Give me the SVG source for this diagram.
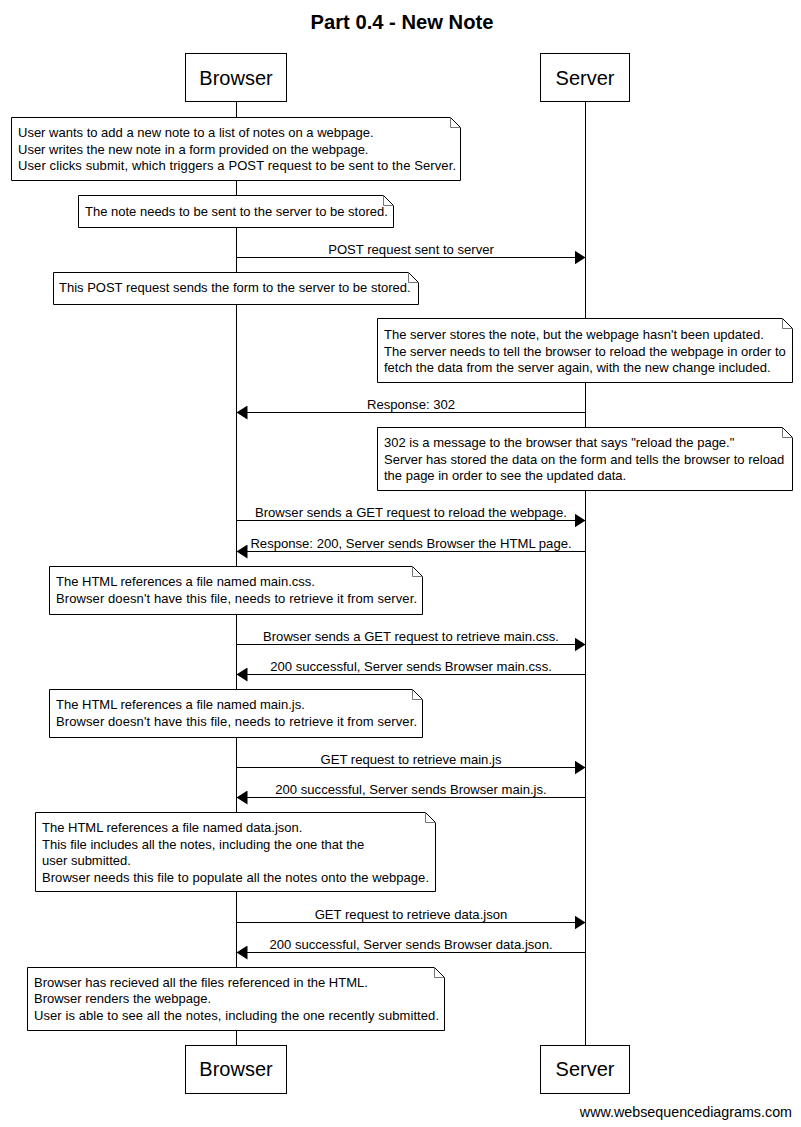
<svg xmlns="http://www.w3.org/2000/svg" width="801" height="1127" viewBox="0 0 801 1127">
<defs>
<marker id="ah" markerUnits="userSpaceOnUse" markerWidth="12" markerHeight="14" refX="11" refY="7" orient="auto">
<polygon points="0,0 11,7 0,14" fill="#000"/>
</marker>
</defs>
<style>
text{font-family:"Liberation Sans",Arial,sans-serif;fill:#000}
.title{font-size:20.2px;font-weight:bold;text-anchor:middle}
.actor rect{fill:#fff;stroke:#000;stroke-width:1}
.actor text{font-size:20px;text-anchor:middle}
.life{stroke:#000;stroke-width:1}
.note path.b{fill:#fff;stroke:#000;stroke-width:1}
.note path.f{fill:none;stroke:#777;stroke-width:1}
.note text{font-size:13px}
.msg line{stroke:#000;stroke-width:1;marker-end:url(#ah)}
.msg text{font-size:13.1px;text-anchor:middle}
.foot{font-size:14.3px;text-anchor:end}
</style>
<rect width="801" height="1127" fill="#fff"/>
<text class="title" x="402" y="29">Part 0.4 - New Note</text>

<g id="lifelines">
<line class="life" x1="236.5" y1="101" x2="236.5" y2="1045"/>
<line class="life" x1="585.5" y1="101" x2="585.5" y2="1045"/>
</g>

<g id="browser-top" class="actor"><rect x="185.5" y="53.5" width="101" height="48"/><text x="236" y="85">Browser</text></g>
<g id="server-top" class="actor"><rect x="540.5" y="53.5" width="89" height="48"/><text x="585" y="85">Server</text></g>
<g id="browser-bottom" class="actor"><rect x="185.5" y="1045.5" width="101" height="48"/><text x="236" y="1076">Browser</text></g>
<g id="server-bottom" class="actor"><rect x="540.5" y="1045.5" width="89" height="48"/><text x="585" y="1076">Server</text></g>

<g id="note1" class="note">
<path class="b" d="M11.5,117.5 H450.5 L460.5,127.5 V180.5 H11.5 Z"/>
<path class="f" d="M450.5,117.5 V127.5 H460.5"/>
<text x="18" y="137">User wants to add a new note to a list of notes on a webpage.</text>
<text x="18" y="154">User writes the new note in a form provided on the webpage.</text>
<text x="18" y="170" textLength="438" lengthAdjust="spacing">User clicks submit, which triggers a POST request to be sent to the Server.</text>
</g>
<g id="note2" class="note">
<path class="b" d="M78.5,195.5 H383.5 L393.5,205.5 V227.5 H78.5 Z"/>
<path class="f" d="M383.5,195.5 V205.5 H393.5"/>
<text x="85" y="216">The note needs to be sent to the server to be stored.</text>
</g>
<g id="note3" class="note">
<path class="b" d="M53.5,272.5 H408.5 L418.5,282.5 V304.5 H53.5 Z"/>
<path class="f" d="M408.5,272.5 V282.5 H418.5"/>
<text x="59" y="292">This POST request sends the form to the server to be stored.</text>
</g>
<g id="note4" class="note">
<path class="b" d="M377.5,318.5 H782.5 L792.5,328.5 V382.5 H377.5 Z"/>
<path class="f" d="M782.5,318.5 V328.5 H792.5"/>
<text x="384" y="339">The server stores the note, but the webpage hasn't been updated.</text>
<text x="384" y="356">The server needs to tell the browser to reload the webpage in order to</text>
<text x="384" y="372">fetch the data from the server again, with the new change included.</text>
</g>
<g id="note5" class="note">
<path class="b" d="M377.5,427.5 H782.5 L792.5,437.5 V490.5 H377.5 Z"/>
<path class="f" d="M782.5,427.5 V437.5 H792.5"/>
<text x="384" y="447">302 is a message to the browser that says "reload the page."</text>
<text x="384" y="464">Server has stored the data on the form and tells the browser to reload</text>
<text x="384" y="480">the page in order to see the updated data.</text>
</g>
<g id="note6" class="note">
<path class="b" d="M49.5,566.5 H412.5 L422.5,576.5 V614.5 H49.5 Z"/>
<path class="f" d="M412.5,566.5 V576.5 H422.5"/>
<text x="56" y="586">The HTML references a file named main.css.</text>
<text x="56" y="603" textLength="361" lengthAdjust="spacing">Browser doesn't have this file, needs to retrieve it from server.</text>
</g>
<g id="note7" class="note">
<path class="b" d="M49.5,689.5 H412.5 L422.5,699.5 V737.5 H49.5 Z"/>
<path class="f" d="M412.5,689.5 V699.5 H422.5"/>
<text x="56" y="709">The HTML references a file named main.js.</text>
<text x="56" y="726" textLength="361" lengthAdjust="spacing">Browser doesn't have this file, needs to retrieve it from server.</text>
</g>
<g id="note8" class="note">
<path class="b" d="M35.5,812.5 H425.5 L435.5,822.5 V891.5 H35.5 Z"/>
<path class="f" d="M425.5,812.5 V822.5 H435.5"/>
<text x="42" y="832">The HTML references a file named data.json.</text>
<text x="42" y="849">This file includes all the notes, including the one that the</text>
<text x="42" y="865">user submitted.</text>
<text x="42" y="882" textLength="387" lengthAdjust="spacing">Browser needs this file to populate all the notes onto the webpage.</text>
</g>
<g id="note9" class="note">
<path class="b" d="M27.5,967.5 H434.5 L444.5,977.5 V1030.5 H27.5 Z"/>
<path class="f" d="M434.5,967.5 V977.5 H444.5"/>
<text x="34" y="987">Browser has recieved all the files referenced in the HTML.</text>
<text x="34" y="1003">Browser renders the webpage.</text>
<text x="34" y="1020" textLength="405" lengthAdjust="spacing">User is able to see all the notes, including the one recently submitted.</text>
</g>

<g id="connectors">
<g class="msg"><line x1="236.5" y1="257.5" x2="585.5" y2="257.5"/><text x="411" y="254">POST request sent to server</text></g>
<g class="msg"><line x1="585.5" y1="412.5" x2="236.5" y2="412.5"/><text x="411" y="409">Response: 302</text></g>
<g class="msg"><line x1="236.5" y1="520.5" x2="585.5" y2="520.5"/><text x="411" y="517">Browser sends a GET request to reload the webpage.</text></g>
<g class="msg"><line x1="585.5" y1="551.5" x2="236.5" y2="551.5"/><text x="411" y="548">Response: 200, Server sends Browser the HTML page.</text></g>
<g class="msg"><line x1="236.5" y1="644.5" x2="585.5" y2="644.5"/><text x="411" y="641">Browser sends a GET request to retrieve main.css.</text></g>
<g class="msg"><line x1="585.5" y1="674.5" x2="236.5" y2="674.5"/><text x="411" y="671">200 successful, Server sends Browser main.css.</text></g>
<g class="msg"><line x1="236.5" y1="767.5" x2="585.5" y2="767.5"/><text x="411" y="764">GET request to retrieve main.js</text></g>
<g class="msg"><line x1="585.5" y1="797.5" x2="236.5" y2="797.5"/><text x="411" y="794">200 successful, Server sends Browser main.js.</text></g>
<g class="msg"><line x1="236.5" y1="922.5" x2="585.5" y2="922.5"/><text x="411" y="919">GET request to retrieve data.json</text></g>
<g class="msg"><line x1="585.5" y1="952.5" x2="236.5" y2="952.5"/><text x="411" y="949">200 successful, Server sends Browser data.json.</text></g>
</g>

<text class="foot" x="792" y="1117">www.websequencediagrams.com</text>
</svg>
